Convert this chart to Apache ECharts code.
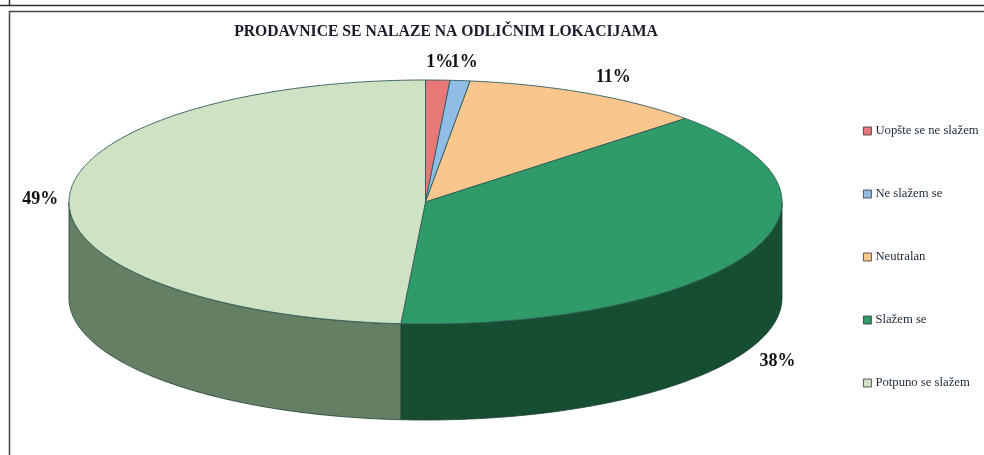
<!DOCTYPE html>
<html><head><meta charset="utf-8">
<style>html,body{margin:0;padding:0;background:#fff}#c{width:984px;height:455px;filter:blur(0.5px)}</style>
<script src="https://cdn.jsdelivr.net/npm/echarts@6/dist/echarts.min.js"></script>
</head><body><div id="c"></div>
<script>
var titleText = 'PRODAVNICE SE NALAZE NA ODLIČNIM LOKACIJAMA';
var categories = ['Uopšte se ne slažem', 'Ne slažem se', 'Neutralan', 'Slažem se', 'Potpuno se slažem'];
var values = [1.1, 0.9, 11, 38.1, 48.9];
var topColors = ['#E87778', '#8FBDE6', '#F9C68E', '#2E9B68', '#CFE3C4'];
var wallColors = ['#8A4647', '#557089', '#946F54', '#164E32', '#647F63'];
var labelOffsets = [[2, -18], [4, -18], [26, -16], [30, 107], [-29, 2]];

var cx = 425.5, cy = 202, rx = 356.5, ry = 122, depth = 96;
var lineColor = '#2F5A5A';
var total = values.reduce(function (a, b) { return a + b; }, 0);

function pt(t, dy) {
  return [cx + rx * Math.sin(t), cy - ry * Math.cos(t) + (dy || 0)];
}
function arcPts(a, b, dy) {
  var n = Math.max(2, Math.ceil((b - a) / 0.01)), out = [];
  for (var i = 0; i <= n; i++) out.push(pt(a + (b - a) * i / n, dy));
  return out;
}
function makeSeries(idx) {
  var before = values.slice(0, idx).reduce(function (a, b) { return a + b; }, 0);
  var a0 = before / total * 2 * Math.PI;
  var a1 = (before + values[idx]) / total * 2 * Math.PI;
  return {
    type: 'custom',
    name: categories[idx],
    coordinateSystem: 'none',
    silent: true,
    itemStyle: { color: topColors[idx] },
    data: [values[idx]],
    renderItem: function (params, api) {
      var children = [];
      var wa = Math.max(a0, Math.PI / 2), wb = Math.min(a1, 3 * Math.PI / 2);
      if (wb > wa) {
        var w = arcPts(wa, wb, 0).concat(arcPts(wa, wb, depth).reverse());
        children.push({ type: 'polygon', shape: { points: w },
          style: { fill: wallColors[idx], stroke: '#1E3C34', lineWidth: 0.8 } });
      }
      var t = [[cx, cy]].concat(arcPts(a0, a1, 0));
      children.push({ type: 'polygon', shape: { points: t },
        style: { fill: api.visual('color'), stroke: lineColor, lineWidth: 0.9 } });
      var mid = pt((a0 + a1) / 2, 0), off = labelOffsets[idx];
      children.push({ type: 'text', z2: 100, style: {
        x: mid[0] + off[0], y: mid[1] + off[1],
        text: Math.round(api.value(0) / total * 100) + '%',
        align: 'center', verticalAlign: 'middle',
        font: 'bold 18px "Liberation Serif"', fill: '#111' } });
      return { type: 'group', children: children };
    }
  };
}
var chart = echarts.init(document.getElementById('c'), null, { renderer: 'canvas' });
chart.setOption({
  animation: false,
  backgroundColor: '#fff',
  title: { text: titleText, left: 441, top: 19, textAlign: 'center',
    textStyle: { fontFamily: 'Liberation Serif', fontSize: 15.7, fontWeight: 'bold', color: '#1a1a2a' } },
  legend: {
    data: categories, orient: 'vertical', left: 858, top: 119, itemWidth: 8, itemHeight: 8,
    itemGap: 49, icon: 'rect', selectedMode: false,
    itemStyle: { borderColor: '#333', borderWidth: 0.8 },
    textStyle: { fontFamily: 'Liberation Serif', fontSize: 12.7, lineHeight: 14, color: '#1a2a3a', padding: [0, 0, 0, -1] }
  },
  graphic: [
    { type: 'line', shape: { x1: 0, y1: 5.5, x2: 984, y2: 5.5 }, style: { stroke: '#333', lineWidth: 1.5 } },
    { type: 'line', shape: { x1: 9.5, y1: 0, x2: 9.5, y2: 5 }, style: { stroke: '#333', lineWidth: 1.5 } },
    { type: 'rect', shape: { x: 9.5, y: 11.5, width: 1000, height: 500 }, style: { fill: 'none', stroke: '#444', lineWidth: 1.5 } }
  ],
  series: categories.map(function (c, i) { return makeSeries(i); })
});
</script></body></html>
